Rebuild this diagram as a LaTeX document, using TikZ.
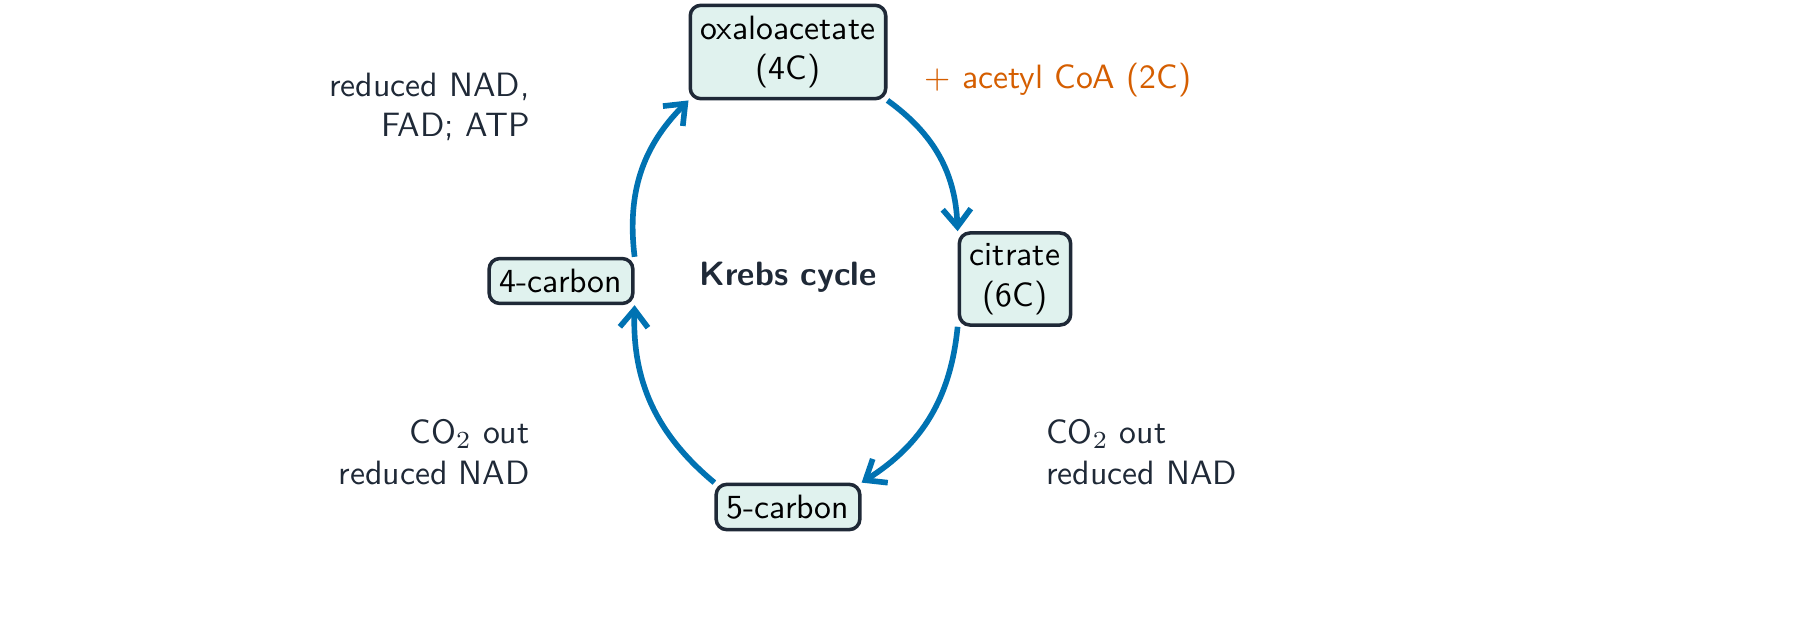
\documentclass[tikz,border=0pt]{standalone}
\usetikzlibrary{arrows.meta}
\definecolor{boxfill}{HTML}{E0F2EE}
\definecolor{boxdraw}{HTML}{1F2937}
\definecolor{arr}{HTML}{0072B2}
\definecolor{orng}{HTML}{D55E00}
\definecolor{txt}{HTML}{1F2937}
\begin{document}
\begin{tikzpicture}[font=\sffamily\fontsize{9.6}{11.5}\selectfont,
  stage/.style={draw=boxdraw,fill=boxfill,line width=1pt,rounded corners=3pt,align=center,inner sep=3pt,text=black},
  lab/.style={text=txt,align=right},
  flow/.style={draw=arr,line width=1.6pt,-{Straight Barb[length=5pt,width=8pt]}}]
\fill[white] (0,0) rectangle (18,6.17);
\node[stage,minimum width=1.87cm,minimum height=0.89cm] (oxa) at (7.88,5.65) {oxaloacetate\\(4C)};
\node[stage,minimum width=1.06cm,minimum height=0.86cm] (cit) at (10.15,3.38) {citrate\\(6C)};
\node[stage,minimum width=1.38cm,minimum height=0.45cm] (five) at (7.88,1.10) {5-carbon};
\node[stage,minimum width=1.38cm,minimum height=0.42cm] (four) at (5.61,3.36) {4-carbon};
\node[text=txt,font=\sffamily\bfseries\fontsize{9.6}{11.5}\selectfont] (krebs) at (7.88,3.40) {Krebs cycle};
\node[text=orng] (acetyl) at (10.58,5.37) {+ acetyl CoA (2C)};
\node[lab,anchor=east] (l1) at (5.42,5.10) {reduced NAD,\\FAD; ATP};
\node[lab,anchor=east] (l2) at (5.42,1.65) {CO$_2$ out\\reduced NAD};
\node[lab,align=left,anchor=west] (l3) at (10.34,1.65) {CO$_2$ out\\reduced NAD};
\draw[flow] (oxa.south east) to[bend left=26] (cit.north west);
\draw[flow] (cit.south west) to[bend left=26] (five.north east);
\draw[flow] (five.north west) to[bend left=26] (four.south east);
\draw[flow] (four.north east) to[bend left=26] (oxa.south west);
\pgfresetboundingbox
\useasboundingbox (0,0) rectangle (18,6.17);
\end{tikzpicture}
\end{document}
